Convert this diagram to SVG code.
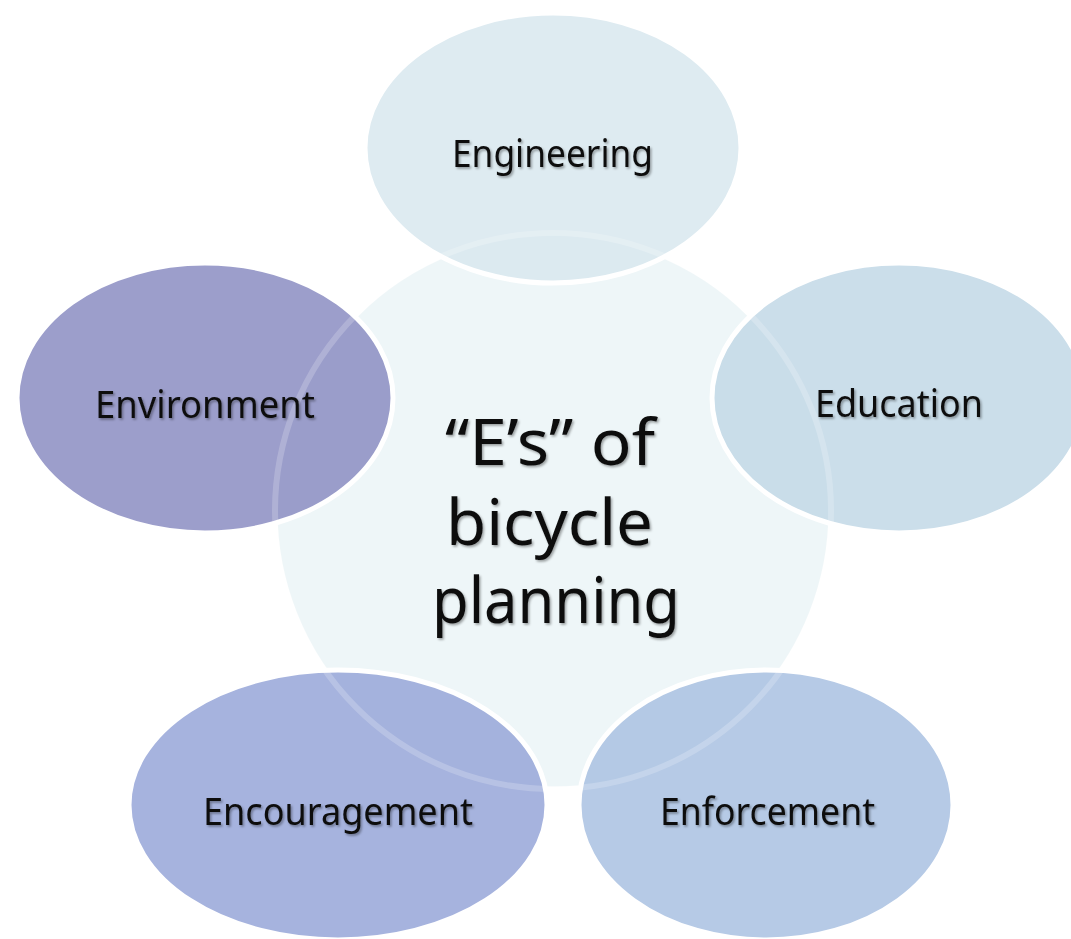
<svg xmlns="http://www.w3.org/2000/svg" width="1071" height="939" viewBox="0 0 1071 939">
  <defs>
    <filter id="txtShadow" x="-10%" y="-30%" width="120%" height="160%">
      <feDropShadow dx="1.5" dy="1.8" stdDeviation="0.9" flood-color="#000" flood-opacity="0.35"/>
    </filter>
    <style>
      .hub { fill: #EEF6F8; stroke: #FFFFFF; stroke-width: 5; }
      .rim { fill: none; stroke: #FFFFFF; stroke-width: 6; stroke-opacity: 0.2; }
      .petal { stroke: #FFFFFF; stroke-width: 5; fill-opacity: 0.85; }
      .label { font-family: "Noto Sans", "Open Sans", sans-serif; font-size: 38px; fill: #111111; filter: url(#txtShadow); }
      .title { font-family: "Noto Sans", "Open Sans", sans-serif; font-size: 63px; fill: #111111; filter: url(#txtShadow); }
    </style>
  </defs>

  <rect width="1071" height="939" fill="#FFFFFF"/>

  <!-- central hub -->
  <g id="hub">
    <circle class="hub" cx="553" cy="511" r="278"/>
    <text class="title" x="445" y="465" textLength="210" lengthAdjust="spacingAndGlyphs">“E’s” of</text>
    <text class="title" x="446" y="545" textLength="207" lengthAdjust="spacingAndGlyphs">bicycle</text>
    <text class="title" x="432" y="623" textLength="248" lengthAdjust="spacingAndGlyphs">planning</text>
  </g>

  <!-- surrounding petals -->
  <g id="engineering">
    <ellipse class="petal" cx="553" cy="148" rx="188" ry="135" fill="#D8E8EE"/>
    <text class="label" x="452" y="167" textLength="201" lengthAdjust="spacingAndGlyphs">Engineering</text>
  </g>

  <g id="education">
    <ellipse class="petal" cx="899" cy="398" rx="187" ry="135" fill="#C2D8E6"/>
    <text class="label" x="815" y="417" textLength="168" lengthAdjust="spacingAndGlyphs">Education</text>
  </g>

  <g id="enforcement">
    <ellipse class="petal" cx="766" cy="805" rx="187" ry="135" fill="#A9C1E2"/>
    <text class="label" x="660" y="825" textLength="215" lengthAdjust="spacingAndGlyphs">Enforcement</text>
  </g>

  <g id="encouragement">
    <ellipse class="petal" cx="338" cy="805" rx="209" ry="135" fill="#96A6D8"/>
    <text class="label" x="203" y="825" textLength="270" lengthAdjust="spacingAndGlyphs">Encouragement</text>
  </g>

  <g id="environment">
    <ellipse class="petal" cx="205" cy="398" rx="188" ry="135" fill="#8B8DC2"/>
    <!-- hub outline glimpsed through the translucent petals -->
    <circle class="rim" cx="553" cy="511" r="278"/>
    <text class="label" x="95" y="418" textLength="220" lengthAdjust="spacingAndGlyphs">Environment</text>
  </g>
</svg>
